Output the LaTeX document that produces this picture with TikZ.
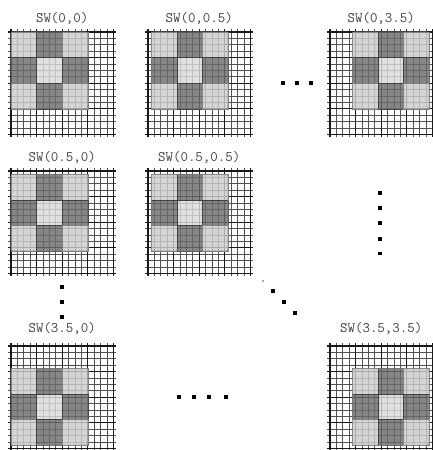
\documentclass[tikz,border=0pt]{standalone}
\tikzset{
  fineline/.style={line width=0.65pt, draw=black!68},
  thickline/.style={line width=1.25pt, draw=black!90},
  cornerblk/.style={fill=black!20, fill opacity=0.82, draw=black!50, line width=0.5pt},
  edgeblk/.style={fill=black!58, fill opacity=0.82, draw=black!75, line width=0.6pt},
  centerblk/.style={fill=black!15, fill opacity=0.82, draw=black!75, line width=0.6pt},
  winborder/.style={draw=black!45, line width=0.6pt, rounded corners=2pt},
  paneltitle/.style={font=\ttfamily\fontsize{14.5}{14.5}\selectfont, text=black!75, inner sep=0pt},
  dotmark/.style={fill=black, draw=none},
  faintdot/.style={fill=black!35, draw=none},
}
\newcommand\swpanel[6]{% name, x0, y0, a(row shift), b(col shift), title y
  \begin{scope}[shift={(#2,#3)}]
    \foreach \i in {0,...,16}{
      \draw[fineline] (\i*6.4,-3) -- (\i*6.4,105.4);
      \draw[fineline] (-3,\i*6.4) -- (105.4,\i*6.4);
    }
    \foreach \i in {0,4,...,16}{
      \draw[thickline] (\i*6.4,-3) -- (\i*6.4,105.4);
      \draw[thickline] (-3,\i*6.4) -- (105.4,\i*6.4);
    }
    \begin{scope}[shift={(#5*6.4,#4*6.4)}]
      \foreach \r in {0,1,2}{
        \foreach \c in {0,1,2}{
          \pgfmathtruncatemacro\s{mod(\r+\c,2)}
          \pgfmathtruncatemacro\m{(\r==1)&&(\c==1)}
          \ifnum\m=1
            \path[centerblk] (\c*25.6,\r*25.6) rectangle ++(25.6,25.6);
          \else\ifnum\s=1
            \path[edgeblk] (\c*25.6,\r*25.6) rectangle ++(25.6,25.6);
          \else
            \path[cornerblk] (\c*25.6,\r*25.6) rectangle ++(25.6,25.6);
          \fi\fi
        }
      }
      \draw[winborder] (0,0) rectangle (76.8,76.8);
    \end{scope}
  \end{scope}
  \node[paneltitle] (#1) at (#2+51.2,#6) {SW(#4,#5)};
}
\begin{document}
\begin{tikzpicture}[x=1pt,y=-1pt]
  \useasboundingbox (0,0) rectangle (433,450);
  \begin{scope}
  \clip (0,0) rectangle (433,450);
  \swpanel{p00}{11}{32}{0}{0}{18.5}
  \swpanel{p0h}{148}{32}{0}{0.5}{18.5}
  \swpanel{p0t}{330}{32}{0}{3.5}{18.5}
  \swpanel{ph0}{11}{171}{0.5}{0}{157.5}
  \swpanel{phh}{148}{171}{0.5}{0.5}{157.5}
  \swpanel{pt0}{11}{346}{3.5}{0}{328}
  \swpanel{ptt}{330}{346}{3.5}{3.5}{328}
  \end{scope}
  % ellipsis dots
  \foreach \x in {283,297,311}{ \path[dotmark] (\x-2,81) rectangle ++(4,4); }
  \foreach \y in {193,208,223,239}{ \path[dotmark] (378,\y-2) rectangle ++(4,4); }
  \path[dotmark] (378,252) rectangle ++(4,2.5);
  \foreach \y in {287,302,317}{ \path[dotmark] (60,\y-2) rectangle ++(4,4); }
  \path[faintdot] (262,280) rectangle ++(2,2);
  \foreach \x/\y in {273/291,284/302,295/313}{ \path[dotmark] (\x-2,\y-2) rectangle ++(4,4); }
  \foreach \x in {179,194,209,226}{ \path[dotmark] (\x-2,395) rectangle ++(4,4); }
\end{tikzpicture}
\end{document}
